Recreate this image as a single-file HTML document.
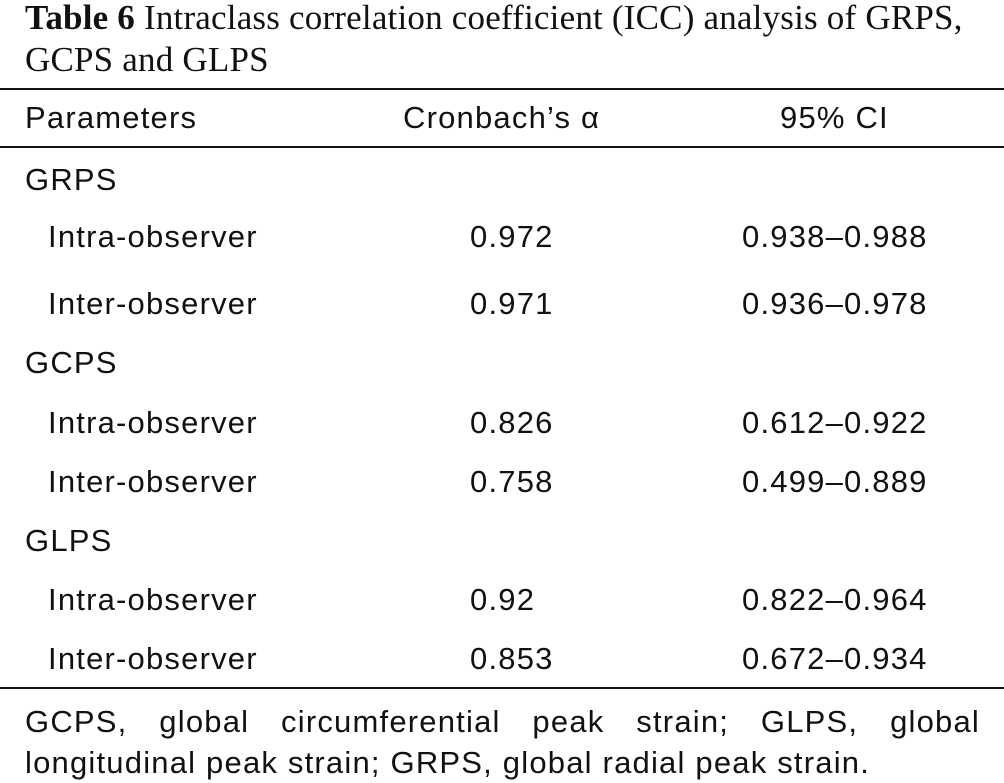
<!DOCTYPE html>
<html><head><meta charset="utf-8"><style>
body{margin:0;width:1004px;height:783px;background:#fff;position:relative;overflow:hidden;color:#111}
.t{position:absolute;font-family:"Liberation Serif",serif;font-size:35px;line-height:40px;white-space:nowrap;letter-spacing:0.2px}
.s{position:absolute;font-family:"Liberation Sans",sans-serif;font-size:31px;line-height:36px;white-space:nowrap;letter-spacing:1.2px}
.r{position:absolute;left:0;width:1004px;background:#111}
.f{position:absolute;left:25px;width:955px;font-family:"Liberation Sans",sans-serif;font-size:31px;line-height:36px;text-align:justify;text-align-last:justify;white-space:nowrap;letter-spacing:1.2px}
</style></head><body>
<div class="t" style="left:25px;top:-2px"><b>Table 6</b> Intraclass correlation coefficient (ICC) analysis of GRPS,</div>
<div class="t" style="left:25px;top:40px">GCPS and GLPS</div>
<div class="r" style="top:88px;height:2px"></div>
<div class="s" style="left:25px;top:100px">Parameters</div>
<div class="s" style="left:403px;top:100px">Cronbach’s α</div>
<div class="s" style="left:780px;top:100px">95% CI</div>
<div class="r" style="top:146px;height:2px"></div>

<div class="s" style="left:25px;top:162px">GRPS</div>
<div class="s" style="left:48px;top:219px">Intra-observer</div>
<div class="s" style="left:470px;top:219px">0.972</div>
<div class="s" style="left:742px;top:219px">0.938–0.988</div>
<div class="s" style="left:48px;top:286px">Inter-observer</div>
<div class="s" style="left:470px;top:286px">0.971</div>
<div class="s" style="left:742px;top:286px">0.936–0.978</div>

<div class="s" style="left:25px;top:345px">GCPS</div>
<div class="s" style="left:48px;top:405px">Intra-observer</div>
<div class="s" style="left:470px;top:405px">0.826</div>
<div class="s" style="left:742px;top:405px">0.612–0.922</div>
<div class="s" style="left:48px;top:464px">Inter-observer</div>
<div class="s" style="left:470px;top:464px">0.758</div>
<div class="s" style="left:742px;top:464px">0.499–0.889</div>

<div class="s" style="left:25px;top:523px">GLPS</div>
<div class="s" style="left:48px;top:582px">Intra-observer</div>
<div class="s" style="left:470px;top:582px">0.92</div>
<div class="s" style="left:742px;top:582px">0.822–0.964</div>
<div class="s" style="left:48px;top:641px">Inter-observer</div>
<div class="s" style="left:470px;top:641px">0.853</div>
<div class="s" style="left:742px;top:641px">0.672–0.934</div>

<div class="r" style="top:687px;height:2px"></div>
<div class="f" style="top:704px">GCPS, global circumferential peak strain; GLPS, global</div>
<div class="s" style="left:25px;top:745px">longitudinal peak strain; GRPS, global radial peak strain.</div>
</body></html>
